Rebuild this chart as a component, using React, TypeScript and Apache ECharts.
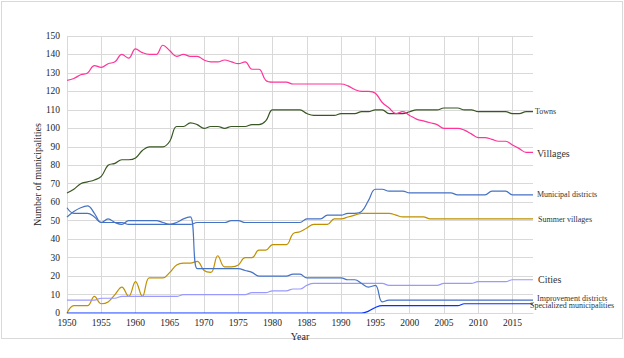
import React, { useEffect, useRef } from "react";
import * as echarts from "echarts";

const years: string[] = [];
for (let y = 1950; y <= 2018; y++) years.push(String(y));

const yTicks = { min: 0, max: 150, interval: 10 };

// 1950 ... 2018
const villages = [
  126, 127, 129, 130, 134, 133, 135, 136, 140, 138,
  143, 141, 140, 140, 145, 142, 139, 140, 139, 139,
  137, 136, 136, 137, 136, 135, 136, 132, 132, 126,
  125, 125, 125, 124, 124, 124, 124, 124, 124, 124,
  124, 123, 121, 120, 120, 119, 114, 111, 108, 109,
  107, 105, 104, 103, 102, 100, 100, 100, 99, 97,
  95, 95, 94, 93, 93, 91, 89, 87, 87,
];
const towns = [
  65, 67, 70, 71, 72, 74, 80, 81, 83, 83,
  84, 88, 90, 90, 90, 93, 101, 101, 103, 102,
  100, 101, 101, 100, 101, 101, 101, 102, 102, 104,
  110, 110, 110, 110, 110, 108, 107, 107, 107, 107,
  108, 108, 108, 109, 109, 110, 110, 108, 108, 108,
  109, 110, 110, 110, 110, 111, 111, 111, 110, 110,
  109, 109, 109, 109, 109, 108, 108, 109, 109,
];
const municipalDistricts = [
  52, 55, 57, 58, 54, 49, 49, 49, 49, 48,
  48, 48, 48, 48, 48, 48, 48, 48, 48, 49,
  49, 49, 49, 49, 50, 50, 49, 49, 49, 49,
  49, 49, 49, 49, 49, 51, 51, 51, 53, 53,
  53, 54, 54, 55, 61, 67, 67, 66, 66, 66,
  65, 65, 65, 65, 65, 65, 65, 64, 64, 64,
  64, 64, 66, 66, 66, 64, 64, 64, 64,
];
const summerVillages = [
  0, 4, 4, 4, 9, 5, 6, 10, 14, 9,
  17, 9, 19, 19, 19, 22, 26, 27, 27, 28,
  23, 22, 31, 25, 25, 26, 30, 30, 34, 34,
  37, 37, 37, 43, 44, 46, 48, 48, 48, 51,
  51, 52, 53, 54, 54, 54, 54, 54, 53, 52,
  52, 52, 52, 51, 51, 51, 51, 51, 51, 51,
  51, 51, 51, 51, 51, 51, 51, 51, 51,
];
const cities = [
  7, 7, 7, 7, 7, 8, 8, 8, 9, 9,
  9, 9, 9, 9, 9, 9, 9, 10, 10, 10,
  10, 10, 10, 10, 10, 10, 10, 11, 11, 11,
  12, 12, 12, 13, 13, 15, 16, 16, 16, 16,
  16, 16, 16, 16, 16, 16, 16, 15, 15, 15,
  15, 15, 15, 15, 15, 16, 16, 16, 16, 16,
  17, 17, 17, 17, 17, 18, 18, 18, 18,
];
const improvementDistricts = [
  57, 54, 54, 54, 52, 49, 51, 49, 48, 50,
  50, 50, 50, 50, 49, 48, 49, 51, 52, 24,
  24, 24, 24, 24, 24, 24, 23, 22, 20, 20,
  20, 20, 20, 21, 21, 19, 19, 19, 19, 19,
  19, 18, 18, 16, 14, 15, 6, 7, 7, 7,
  7, 7, 7, 7, 7, 7, 7, 7, 7, 7,
  7, 7, 7, 7, 7, 7, 7, 7, 7,
];
const specializedMunicipalities = [
  0, 0, 0, 0, 0, 0, 0, 0, 0, 0,
  0, 0, 0, 0, 0, 0, 0, 0, 0, 0,
  0, 0, 0, 0, 0, 0, 0, 0, 0, 0,
  0, 0, 0, 0, 0, 0, 0, 0, 0, 0,
  0, 0, 0, 0, 1, 3, 4, 4, 4, 4,
  4, 4, 4, 4, 4, 4, 4, 4, 5, 5,
  5, 5, 5, 5, 5, 5, 5, 5, 5,
];

const SERIF = "'Liberation Serif', 'Times New Roman', serif";

const seriesDefs = [
  { name: "Towns", data: towns, color: "#385723", size: 8, offset: [0, 0] },
  { name: "Villages", data: villages, color: "#FF3399", size: 10, offset: [2, 1] },
  { name: "Municipal districts", data: municipalDistricts, color: "#4472C4", size: 8, offset: [2, 0] },
  { name: "Summer villages", data: summerVillages, color: "#BF9000", size: 8, offset: [3, 1] },
  { name: "Cities", data: cities, color: "#9999FF", size: 10, offset: [3, 0] },
  { name: "Improvement districts", data: improvementDistricts, color: "#4472C4", size: 8, offset: [2, -2] },
  { name: "Specialized municipalities", data: specializedMunicipalities, color: "#0033FF", size: 8, offset: [-5, 2] },
];

export default function App() {
  const ref = useRef<HTMLDivElement>(null);
  useEffect(() => {
    if (!ref.current) return;
    const chart = echarts.init(ref.current, undefined, { renderer: "svg" });
    chart.setOption({
      animation: false,
      grid: { left: 67, right: 91, top: 36, bottom: 45, containLabel: false },
      xAxis: {
        type: "category",
        data: years,
        boundaryGap: false,
        name: "Year",
        nameLocation: "middle",
        nameGap: 18,
        nameMoveOverlap: false,
        nameTextStyle: { fontFamily: SERIF, fontSize: 10, color: "#262626" },
        axisLine: { show: true, lineStyle: { color: "#d9d9d9" } },
        axisTick: { show: false },
        axisLabel: {
          interval: (i: number, v: string) => Number(v) % 5 === 0,
          fontFamily: SERIF,
          fontSize: 9.5,
          color: "#262626",
          margin: 5,
        },
        splitLine: {
          show: true,
          interval: (i: number, v: string) => Number(v) % 5 === 0,
          lineStyle: { color: "#d9d9d9", width: 1 },
        },
      },
      yAxis: {
        type: "value",
        min: yTicks.min,
        max: yTicks.max,
        interval: yTicks.interval,
        name: "Number of municipalities",
        nameLocation: "middle",
        nameGap: 25,
        nameMoveOverlap: false,
        nameTextStyle: { fontFamily: SERIF, fontSize: 10, color: "#262626" },
        axisLine: { show: false },
        axisTick: { show: false },
        axisLabel: { fontFamily: SERIF, fontSize: 9.5, color: "#262626", margin: 7 },
        splitLine: { show: true, lineStyle: { color: "#d9d9d9", width: 1 } },
      },
      series: seriesDefs.map((s) => ({
        name: s.name,
        type: "line",
        data: s.data,
        smooth: 0.4,
        symbol: "none",
        color: s.color,
        lineStyle: { width: 1.2, color: s.color },
        endLabel: {
          show: true,
          formatter: "{a}",
          fontFamily: SERIF,
          fontSize: s.size,
          color: "#333333",
          distance: 2,
          offset: s.offset,
        },
      })),
    });
    return () => chart.dispose();
  }, []);
  return (
    <div style={{ position: "fixed", left: 0, top: 0, width: 624, height: 358, background: "#fff" }}>
      <div
        style={{
          position: "absolute",
          left: 1,
          top: 1,
          width: 620,
          height: 336,
          border: "1px solid #d9d9d9",
        }}
      />
      <div ref={ref} style={{ position: "absolute", left: 0, top: 0, width: 624, height: 358 }} />
    </div>
  );
}
